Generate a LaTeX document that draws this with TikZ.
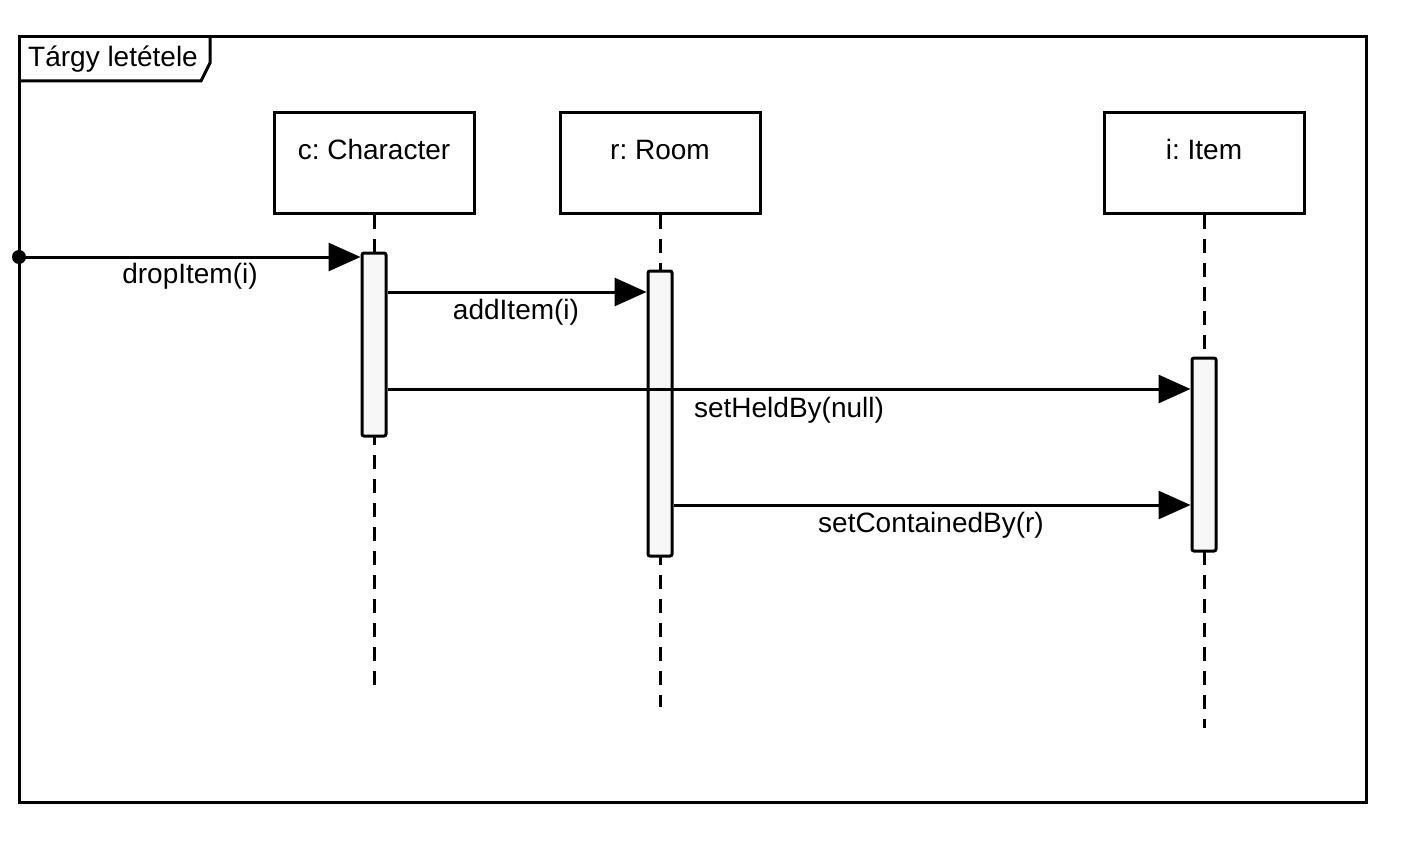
\documentclass[tikz,border=0pt]{standalone}
\usepackage{fontspec}
\setmainfont{Liberation Sans}
\usetikzlibrary{arrows.meta}
\frenchspacing
\begin{document}
\begin{tikzpicture}[x=1pt,y=-1pt,
  lw/.style={line width=3pt},
  head/.style={draw,lw,minimum width=200pt,minimum height=100pt,inner sep=0pt},
  act/.style={draw,lw,fill=black!3,minimum width=24pt,inner sep=0pt,rounded corners=2pt},
  lifeline/.style={lw,dash pattern=on 14pt off 10pt},
  msg/.style={lw,-{Triangle[length=32pt,width=28pt]}},
  lbl/.style={font=\fontsize{28}{34}\selectfont\frenchspacing,inner sep=0pt}]
\useasboundingbox (0,0) rectangle (1406,856);
% frame
\draw[lw] (19,37) rectangle (1366,802);
\draw[lw] (19,81) -- (201,81) -- (210,63) -- (210,37);
\node[lbl,anchor=west] (title) at (28,59) {Tárgy letétele};
% heads
\node[head] (hC) at (374,163) {};
\node[head] (hR) at (660,163) {};
\node[head] (hI) at (1204,163) {};
\node[lbl,anchor=base] (tC) at (374,160) {c: Character};
\node[lbl,anchor=base] (tR) at (660,160) {r: Room};
\node[lbl,anchor=base] (tI) at (1204,160) {i: Item};
% lifeline ends
\coordinate (eC) at (374,693);
\coordinate (eR) at (660,707);
\coordinate (eI) at (1204,728);
\draw[lifeline] (hC.south) -- (eC);
\draw[lifeline] (hR.south) -- (eR);
\draw[lifeline] (hI.south) -- (eI);
% activations
\node[act,minimum height=183pt] (aC) at (374,344.5) {};
\node[act,minimum height=285pt] (aR) at (660,413.5) {};
\node[act,minimum height=193pt] (aI) at (1204,454.5) {};
% messages
\coordinate (start) at (19,257);
\fill (start) circle (7pt);
\coordinate (m2) at (0,292);
\coordinate (m3) at (0,389);
\coordinate (m4) at (0,505);
\draw[msg] (start) -- (aC.west |- start);
\draw[msg] (aC.east |- m2) -- (aR.west |- m2);
\draw[msg] (aC.east |- m3) -- (aI.west |- m3);
\draw[msg] (aR.east |- m4) -- (aI.west |- m4);
\node[lbl] (l1) at (190,276) {dropItem(i)};
\node[lbl] (l2) at (516,312) {addItem(i)};
\node[lbl] (l3) at (789,410) {setHeldBy(null)};
\node[lbl] (l4) at (931,525) {setContainedBy(r)};
\end{tikzpicture}
\end{document}
